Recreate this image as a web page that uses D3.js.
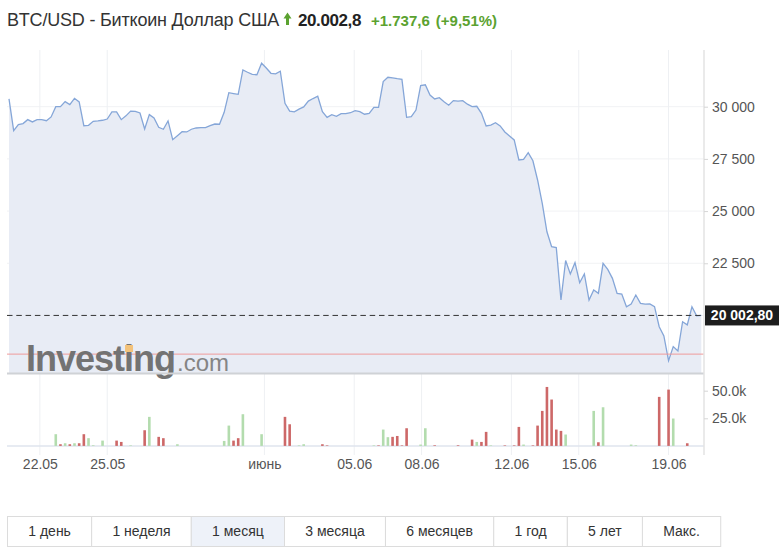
<!DOCTYPE html>
<html>
<head>
<meta charset="utf-8">
<script src="https://cdn.jsdelivr.net/npm/d3@7"></script>
<style>
  body { margin: 0; background: #fff; }
  text { font-family: Arial, "Liberation Sans", sans-serif; }
</style>
</head>
<body>
<div id="chart"></div>
<script>
// 5-hour closes, BTC/USD, 20.05 15:00 -> 20.06
const prices = [
  30370, 28850, 29140, 29190, 29380, 29270, 29380, 29380, 29330, 29510,
  30000, 30000, 30240, 30100, 30400, 30230, 29090, 29110, 29300, 29320,
  29350, 29410, 29750, 29750, 29380, 29560, 29790, 29780, 29700, 28930,
  29620, 29460, 29010, 28920, 29320, 28420, 28610, 28800, 28790, 28920,
  28980, 29000, 29000, 29090, 29170, 29160, 29730, 30670, 30630, 30590,
  31760, 31650, 31550, 31530, 32080, 31850, 31600, 31570, 31700, 30160,
  29790, 29750, 29880, 29990, 30270, 30390, 30500, 29760, 29490, 29620,
  29540, 29670, 29670, 29710, 29810, 29760, 29640, 29680, 29970, 29970,
  31200, 31410, 31380, 31340, 31310, 29490, 29520, 29840, 31010, 31050,
  30560, 30370, 30430, 30240, 30070, 30290, 30270, 30290, 30120, 30000,
  30020, 29680, 29080, 29120, 29230, 29080, 28790, 28600, 28410, 27450,
  27480, 27800, 27410, 26490, 25370, 24010, 23300, 23250, 20740, 22630,
  21990, 22530, 21570, 21990, 20740, 21220, 21060, 22500, 22210, 21780,
  21060, 21030, 20420, 20550, 20980, 20580, 20540, 20550, 20420, 19460,
  19020, 17840, 18510, 18300, 19700, 19550, 20420, 19980, 20002.8
];

// volume per bar, thousands
const volumes = [
  0, 0, 0, 0, 0, 0, 0, 0, 0, 0,
  10.6, 1.5, 2.4, 1.5, 2.4, 2.4, 10.6, 7, 0.6, 0,
  4.8, 0, 0, 4.8, 3.6, 0, 0.5, 0, 0, 14.2,
  26.3, 0, 8.2, 7, 0, 0, 1.5, 0, 0, 0,
  0, 0, 0, 0, 0, 0, 4.5, 18.4, 4.8, 7,
  28.7, 0, 0, 0, 10.6, 0, 0, 0, 0, 26.3,
  19.6, 0, 0.5, 1.5, 0, 0, 0, 1.5, 0.5, 0,
  0, 0, 0, 0, 0, 0, 0, 0, 0.5, 0.5,
  14.8, 7.9, 8.2, 9, 0.5, 16, 0, 0, 1.2, 16,
  0, 0.6, 0, 0, 0, 0, 0.6, 0, 0, 5.7,
  3.6, 3.6, 12.7, 0.5, 0, 0, 0.5, 0, 0.5, 17.2,
  1.2, 0, 0.5, 18.4, 31.7, 53.4, 42, 14.8, 13.6, 10.3,
  0, 0, 0, 0, 0, 31.7, 3.3, 35, 0, 0,
  0, 0, 0, 1.2, 0.6, 0, 0, 0, 0, 44.4,
  0, 51, 24.8, 0, 0, 2.4, 0, 0, 0
];

const startTime = new Date(2022, 4, 20, 15);
const stepHours = 5;
const refLevel = 18150;
const tickDates = ["2022-05-22", "2022-05-25", "2022-06-01", "2022-06-05", "2022-06-08", "2022-06-12", "2022-06-15", "2022-06-19"];
const tickLabels = ["22.05", "25.05", "июнь", "05.06", "08.06", "12.06", "15.06", "19.06"];
const priceTicks = [22500, 25000, 27500, 30000];
const volumeTicks = [25000, 50000];
const periods = ["1 день", "1 неделя", "1 месяц", "3 месяца", "6 месяцев", "1 год", "5 лет", "Макс."];
const activePeriod = "1 месяц";

const width = 783;
const height = 549;

//build rows
const parse = d3.timeParse("%Y-%m-%d");
const data = prices.map((p, i) => ({
  date: d3.timeHour.offset(startTime, i * stepHours),
  price: p,
  volume: volumes[i] * 1000,
  up: i > 0 && p > prices[i - 1]
}));
const last = prices[prices.length - 1];
const ru = d3.formatLocale({decimal: ",", thousands: "\u00a0", grouping: [3], currency: ["", ""]});

const svg = d3.create("svg")
  .attr("width", width)
  .attr("height", height)
  .attr("viewBox", [0, 0, width, height]);
d3.select("#chart").node().append(svg.node());

//scales
const plotLeft = 7, plotRight = 704;
const x = d3.scaleTime()
  .domain(d3.extent(data, d => d.date))
  .range([9, 701.3]);
const y = d3.scaleLinear()
  .domain([17246, 32715])
  .range([373, 50]);
const yv = d3.scaleLinear()
  .domain([0, 50000])
  .range([445.9, 390.7]);

//title
svg.append("text").attr("x", 7).attr("y", 26).style("font-size", "18px").attr("letter-spacing", -0.2)
  .attr("fill", "#333").text("BTC/USD - Биткоин Доллар США");
svg.append("path")
  .attr("d", "M283.5,18.5 L287.5,12.5 L291.5,18.5 L289,18.5 L289,25 L286,25 L286,18.5 Z")
  .attr("fill", "#5ba230");
const quote = svg.append("text").attr("x", 298).attr("y", 26).style("font-weight", "bold");
quote.append("tspan").attr("fill", "#222").style("font-size", "17px").attr("letter-spacing", -0.4).text("20.002,8");
quote.append("tspan").attr("dx", 10).attr("fill", "#5ba230").style("font-size", "15px").text("+1.737,6");
quote.append("tspan").attr("dx", 6).attr("fill", "#5ba230").style("font-size", "15px").text("(+9,51%)");

//grid
svg.append("g")
  .selectAll("line")
  .data(priceTicks.concat([20000]))
  .join("line")
  .attr("x1", plotLeft).attr("x2", plotRight)
  .attr("y1", d => y(d)).attr("y2", d => y(d))
  .attr("stroke", "#f1f2f4");

const ticks = tickDates.map(parse);
svg.append("g")
  .selectAll("line")
  .data(ticks)
  .join("line")
  .attr("x1", d => x(d)).attr("x2", d => x(d))
  .attr("y1", 50).attr("y2", 455)
  .attr("stroke", "#eef0f3");

//area + line
svg.append("path")
  .datum(data)
  .attr("fill", "#e8ecf5")
  .attr("d", d3.area().x(d => x(d.date)).y0(373).y1(d => y(d.price)));

svg.append("path")
  .datum(data)
  .attr("fill", "none")
  .attr("stroke", "#85a6d8")
  .attr("stroke-width", 1.3)
  .attr("d", d3.line().x(d => x(d.date)).y(d => y(d.price)));

//reference lines
svg.append("line")
  .attr("x1", plotLeft).attr("x2", plotRight)
  .attr("y1", y(refLevel)).attr("y2", y(refLevel))
  .attr("stroke", "#ef9a9a");
svg.append("line")
  .attr("x1", plotLeft).attr("x2", plotRight)
  .attr("y1", y(last)).attr("y2", y(last))
  .attr("stroke", "#333")
  .attr("stroke-dasharray", "5.5,3.8");

//logo
const logo = svg.append("text").attr("x", 26).attr("y", 371).attr("fill", "#737373");
logo.append("tspan").style("font-size", "36px").style("font-weight", "bold").attr("letter-spacing", -1).text("Investing");
logo.append("tspan").attr("dx", 2).style("font-size", "24px").attr("fill", "#858585").text(".com");
const iPos = logo.node().getStartPositionOfChar(6);
svg.append("rect").attr("x", iPos.x + 1).attr("y", 345).attr("width", 8).attr("height", 7).attr("fill", "#f3c27a");

//pane borders
svg.append("line").attr("x1", plotLeft).attr("x2", plotRight).attr("y1", 373.5).attr("y2", 373.5)
  .attr("stroke", "#cfd2d6").attr("stroke-width", 2);
svg.append("line").attr("x1", plotLeft).attr("x2", plotRight).attr("y1", 446).attr("y2", 446)
  .attr("stroke", "#dfe5ee").attr("stroke-width", 1.5);

//volume bars
svg.append("g")
  .selectAll("rect")
  .data(data.filter(d => d.volume > 0))
  .join("rect")
  .attr("x", d => x(d.date) - 1.3)
  .attr("width", 2.6)
  .attr("y", d => yv(d.volume))
  .attr("height", d => yv(0) - yv(d.volume))
  .attr("fill", d => d.up ? "#b3dcae" : "#cd6868");

//axes
const styleAxis = g => {
  g.select(".domain").attr("stroke", "#e3e3e3").attr("stroke-width", 1.5);
  g.selectAll(".tick line").attr("stroke", "#d6d6d6");
  g.selectAll(".tick text").attr("fill", "#555").style("font-size", "14px")
    .style("font-family", "Arial, 'Liberation Sans', sans-serif");
};

svg.append("g")
  .attr("transform", `translate(${plotRight},0)`)
  .call(d3.axisRight(y).tickValues(priceTicks).tickSize(4).tickPadding(4)
    .tickFormat(d => ru.format(",")(d)).tickSizeOuter(0))
  .call(styleAxis)
  .call(g => g.select(".domain").attr("d", "M0,50V455"));

svg.append("g")
  .attr("transform", `translate(${plotRight},0)`)
  .call(d3.axisRight(yv).tickValues(volumeTicks).tickSize(4).tickPadding(4)
    .tickFormat(d => (d / 1000).toFixed(1) + "k"))
  .call(styleAxis)
  .call(g => g.select(".domain").remove());

svg.append("g")
  .attr("transform", "translate(0,446)")
  .call(d3.axisBottom(x).tickValues(ticks).tickSize(0).tickPadding(13)
    .tickFormat((d, i) => tickLabels[i]))
  .call(styleAxis)
  .call(g => g.select(".domain").remove());

//last price label
const priceLabel = svg.append("g").attr("transform", `translate(705,${y(last)})`);
priceLabel.append("rect").attr("x", 0).attr("y", -10).attr("width", 74).attr("height", 20).attr("fill", "#1d1d1d");
priceLabel.append("text").attr("x", 37).attr("y", 5).attr("text-anchor", "middle")
  .attr("fill", "#fff").style("font-size", "14px").style("font-weight", "bold")
  .text(ru.format(",.2f")(last));

//period buttons
const bar = svg.append("g").attr("transform", "translate(7.5,516.5)");
let bx = 0;
periods.forEach(p => {
  const t = bar.append("text").attr("y", 15).attr("dy", "0.35em").attr("fill", "#333")
    .style("font-size", "14px").text(p);
  const w = t.node().getComputedTextLength() + 41.5;
  bar.insert("rect", "text").attr("x", bx).attr("y", 0).attr("width", w).attr("height", 30)
    .attr("fill", p === activePeriod ? "#eef2f9" : "#fff").attr("stroke", "#dcdcdc");
  t.attr("x", bx + w / 2).attr("text-anchor", "middle");
  bx += w;
});
</script>
</body>
</html>
